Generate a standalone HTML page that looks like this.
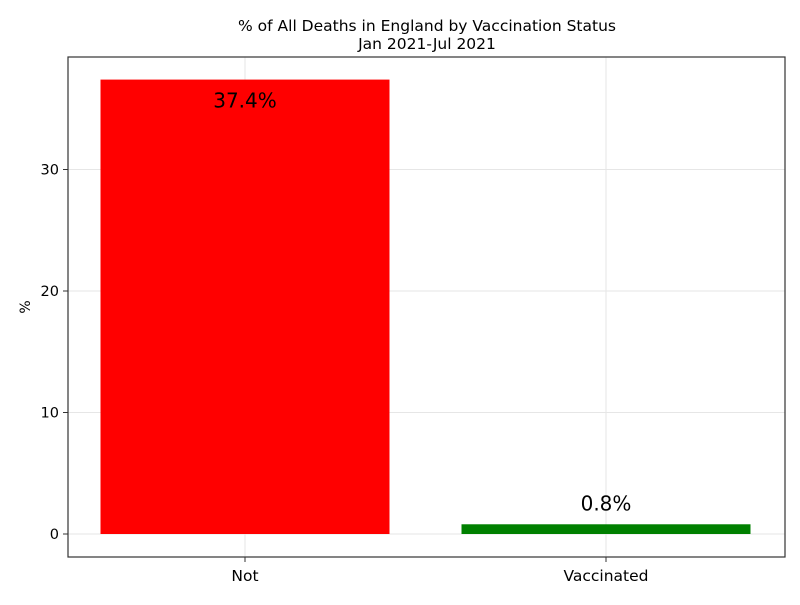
<!DOCTYPE html>
<html><head><meta charset="utf-8"><style>
body{margin:0;background:#fff}
svg{font-family:"DejaVu Sans","Liberation Sans",sans-serif}
</style></head><body>
<svg id="chart" width="800" height="600">
<text x="427" y="31" font-size="15.5" text-anchor="middle">% of All Deaths in England by Vaccination Status</text>
<text x="427" y="49" font-size="15.5" text-anchor="middle">Jan 2021-Jul 2021</text>
<text transform="translate(30,307) rotate(-90)" font-size="14" text-anchor="middle">%</text>
<g id="grid"></g><g id="bars"></g><g id="labels"></g><g id="ticks"></g>
<rect x="68" y="57" width="717" height="500" fill="none" stroke="#333" stroke-width="1.2"/>
</svg>
<script>
const categories=["Not","Vaccinated"];
const values=[37.4,0.8];
const valueLabels=["37.4%","0.8%"];
const colors=["#ff0000","#008000"];
const yTicks=[0,10,20,30];
const NS="http://www.w3.org/2000/svg";
function y(v){return 534-v*12.15;}
function xc(i){return 245+i*361;}
const bw=289;
function mk(t,a,p){const e=document.createElementNS(NS,t);for(const k in a)e.setAttribute(k,a[k]);document.getElementById(p).appendChild(e);return e;}
yTicks.forEach(t=>{
  const g=mk('line',{x1:68,x2:785,y1:y(t),y2:y(t),stroke:'#e6e6e6'},'grid');
  
  
  const tk=mk('line',{x1:63,x2:68,y1:y(t),y2:y(t),stroke:'#333'},'ticks');
  
  
  const l=mk('text',{x:59,y:y(t)+5,'font-size':14.5,'text-anchor':'end'},'ticks');
  l.textContent=t;
  
  
});
categories.forEach((c,i)=>{
  const g=mk('line',{x1:xc(i),x2:xc(i),y1:57,y2:557,stroke:'#e6e6e6'},'grid');
  
  
  const r=mk('rect',{x:xc(i)-bw/2,y:y(values[i]),width:bw,height:y(0)-y(values[i]),fill:colors[i]},'bars');
  
  
  const inside=values[i]>5;
  const t=mk('text',{x:xc(i),y:inside?y(values[i])+28:y(values[i])-14,'font-size':20,'text-anchor':'middle'},'labels');
  t.textContent=valueLabels[i];
  
  
  const tk=mk('line',{x1:xc(i),x2:xc(i),y1:557,y2:562,stroke:'#333'},'ticks');
  
  
  const l=mk('text',{x:xc(i),y:581,'font-size':15.5,'text-anchor':'middle'},'ticks');
  l.textContent=c;
  
  
});
</script>
</body></html>
